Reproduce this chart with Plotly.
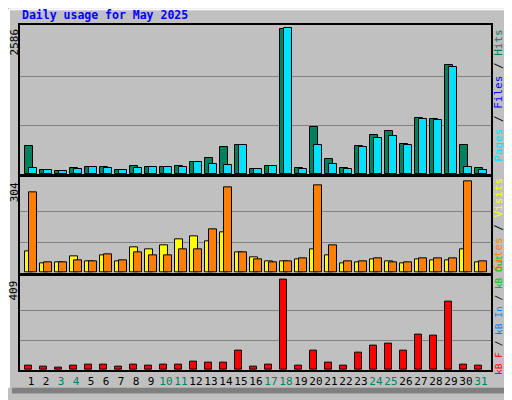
import plotly.graph_objects as go
from plotly.subplots import make_subplots

days = list(range(1, 32))
weekend = [3, 4, 10, 11, 17, 18, 24, 25, 31]
hits = [494, 75, 58, 110, 128, 128, 75, 145, 128, 128, 145, 215, 284, 476, 528,
        93, 145, 2565, 110, 841, 267, 110, 493, 702, 772, 545, 998, 981, 1938, 528, 110]
pages = [111, 75, 58, 93, 128, 110, 75, 110, 128, 128, 128, 215, 180, 162, 511,
         93, 145, 2586, 93, 511, 180, 93, 476, 650, 685, 511, 981, 963, 1903, 128, 75]
visits = [70, 31, 34, 54, 37, 57, 37, 83, 77, 90, 110, 120, 106, 133, 67,
          50, 37, 37, 44, 77, 57, 31, 34, 44, 37, 31, 44, 41, 41, 77, 34]
sites = [267, 34, 34, 41, 37, 60, 41, 67, 57, 57, 77, 77, 146, 284, 67,
         44, 34, 37, 47, 291, 90, 37, 37, 47, 34, 34, 47, 47, 47, 304, 37]
kbf = [19, 15, 10, 19, 24, 24, 15, 24, 19, 24, 24, 37, 33, 33, 87,
       15, 24, 409, 19, 87, 33, 19, 78, 113, 122, 87, 163, 158, 311, 24, 19]
max_hits, max_visits, max_kb = 2586, 304, 409

OFF = 8  # page body margin
W, H = 512 - OFF, 400 - OFF
L, R, T, B = 20 - OFF, 21, 25 - OFF, 24
ph = H - T - B
def py(p): return (H - B - (p - OFF)) / ph
def px(p): return ((p - OFF) - L) / (W - L - R)

fig = make_subplots(rows=3, cols=1, shared_xaxes=True, vertical_spacing=0.01)
line = dict(color="black", width=1)
W8 = 0.53
fig.add_bar(x=days, y=hits, width=W8, offset=-0.4, marker=dict(color="#00805c", line=line), row=1, col=1)
fig.add_bar(x=days, y=pages, width=W8, offset=-0.13, marker=dict(color="#00e0ff", line=line), row=1, col=1)
fig.add_bar(x=days, y=visits, width=W8, offset=-0.4, marker=dict(color="#ffff00", line=line), row=2, col=1)
fig.add_bar(x=days, y=sites, width=W8, offset=-0.13, marker=dict(color="#ff8000", line=line), row=2, col=1)
fig.add_bar(x=days, y=kbf, width=0.5, offset=-0.4, marker=dict(color="#ff0000", line=line), row=3, col=1)

mono = "DejaVu Sans Mono"
ticktext = [f"<span style='color:{'#00805c' if d in weekend else 'black'}'>{d}</span>" for d in days]
fig.update_layout(
    width=W, height=H, margin=dict(l=L, r=R, t=T, b=B),
    paper_bgcolor="#c0c0c0", plot_bgcolor="#c0c0c0",
    barmode="overlay", showlegend=False, bargap=0,
    font=dict(family=mono, size=11, color="black"),
    yaxis=dict(domain=[py(177), 1], range=[0, 2638]),
    yaxis2=dict(domain=[py(277), py(180)], range=[0, 318]),
    yaxis3=dict(domain=[0, py(280)], range=[0, 429]),
)
for i, m in zip((1, 2, 3), (max_hits, max_visits, max_kb)):
    fig.update_yaxes(row=i, col=1, tickvals=[m / 3, 2 * m / 3], showticklabels=False,
                     gridcolor="#808080", gridwidth=1, zeroline=False, ticks="",
                     showline=True, mirror=True, linecolor="black", linewidth=1.5)
    fig.update_xaxes(row=i, col=1, range=[0.267, 31.67], showgrid=False, zeroline=False,
                     showline=True, mirror=True, linecolor="black", linewidth=1.5,
                     tickvals=days, ticktext=ticktext, ticks="", tickangle=0,
                     tickfont=dict(size=11, family=mono), showticklabels=(i == 3))

anns = [
    dict(x=px(20), y=py(15), text="<b>Daily usage for May 2025</b>", showarrow=False,
         xanchor="left", yanchor="middle", font=dict(color="#0000ff", size=11.5, family=mono)),
]
for val, top in ((max_hits, 27), (max_visits, 183), (max_kb, 283)):
    anns.append(dict(x=px(14), y=py(top), text=str(val), textangle=-90, showarrow=False,
                     xanchor="center", yanchor="top", font=dict(size=11, family=mono)))
legs = [
    ("<span style='color:#00e0ff'>Pages</span> / <span style='color:#0000ff'>Files</span> / <span style='color:#00805c'>Hits</span>", 97, 11),
    ("<span style='color:#ff8000'>Sites</span> / <span style='color:#ffff00'>Visits</span>", 228, 11),
    ("<span style='color:#ff0000'>kB F</span> / <span style='color:#0080ff'>kB In</span> / <span style='color:#00c000'>kB Out</span>", 320, 9.5),
]
for t, yc, fs in legs:
    anns.append(dict(x=px(499), y=py(yc), text=t, textangle=-90, showarrow=False,
                     xanchor="center", yanchor="middle", font=dict(size=fs, family=mono)))
for a in anns:
    a["xref"] = "paper"
    a["yref"] = "paper"
fig.update_layout(annotations=anns)

shapes = [
    dict(type="rect", xref="paper", yref="paper", x0=px(506), x1=px(512), y0=py(400), y1=py(12), fillcolor="#808080", line_width=0),
    dict(type="rect", xref="paper", yref="paper", x0=px(12), x1=px(512), y0=py(400), y1=py(394), fillcolor="#808080", line_width=0),
    dict(type="line", xref="paper", yref="paper", x0=px(9), x1=px(506), y0=py(9), y1=py(9), line=dict(color="white", width=2)),
    dict(type="line", xref="paper", yref="paper", x0=px(9), x1=px(9), y0=py(9), y1=py(394), line=dict(color="white", width=2)),
]
fig.update_layout(shapes=shapes)
fig.write_html("out.html")
